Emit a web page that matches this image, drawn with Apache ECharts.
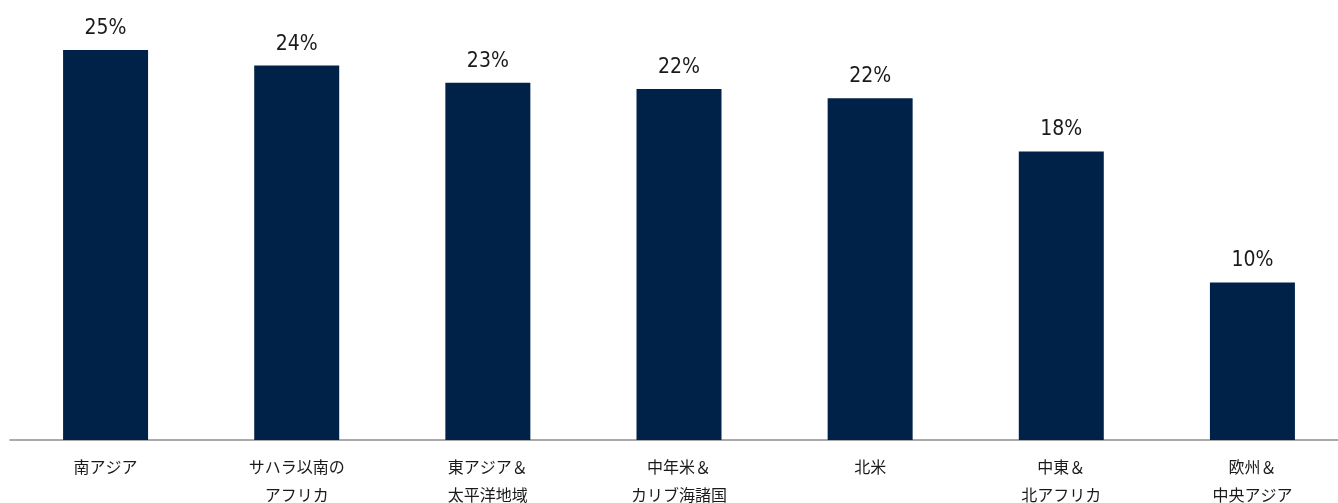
<!DOCTYPE html>
<html>
<head>
<meta charset="utf-8">
<script src="https://cdn.jsdelivr.net/npm/echarts@6/dist/echarts.min.js"></script>
<style>html,body{margin:0;padding:0;background:#fff;}#c{width:1338px;height:503px;}</style>
</head>
<body>
<div id="c"></div>
<script>
const categories = ['南アジア', 'サハラ以南の\nアフリカ', '東アジア＆\n太平洋地域', '中年米＆\nカリブ海諸国', '北米', '中東＆\n北アフリカ', '欧州＆\n中央アジア'];
const values = [25, 24, 22.9, 22.5, 21.9, 18.5, 10.1];
const valueLabels = ['25%', '24%', '23%', '22%', '22%', '18%', '10%'];

const chart = echarts.init(document.getElementById('c'), null, {renderer: 'canvas'});
chart.setOption({
  animation: false,
  grid: {left: 10, width: 1338, top: 50, height: 390, containLabel: false, outerBoundsMode: 'none'},
  xAxis: {
    type: 'category',
    data: categories,
    axisLine: {show: true, lineStyle: {color: '#8f8f8f', width: 1.5}},
    axisTick: {show: false},
    axisLabel: {
      interval: 0,
      margin: 13,
      fontFamily: 'Noto Sans CJK JP',
      fontSize: 16,
      lineHeight: 28,
      color: '#1a1a1a'
    }
  },
  yAxis: {
    type: 'value', min: 0, max: 25,
    show: false
  },
  series: [{
    type: 'bar',
    data: values,
    barWidth: 85,
    itemStyle: {color: '#012248'},
    label: {
      show: true,
      position: 'top',
      distance: 11,
      fontFamily: "'DejaVu Sans Condensed', 'Roboto'",
      fontSize: 21,
      color: '#1a1a1a',
      formatter: p => valueLabels[p.dataIndex]
    }
  }]
});
</script>
</body>
</html>
